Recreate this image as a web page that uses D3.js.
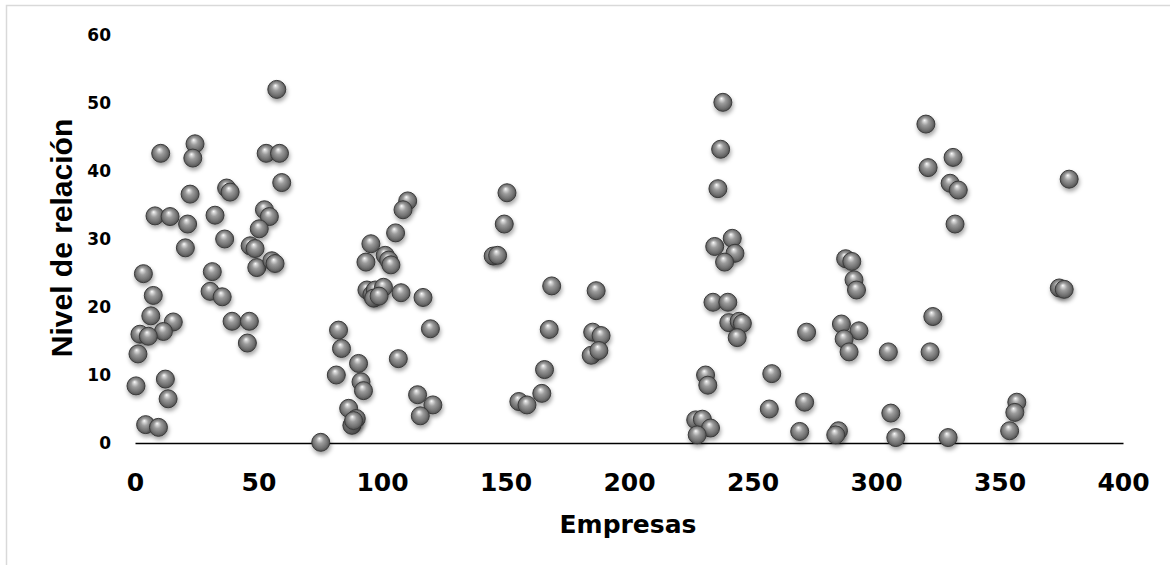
<!DOCTYPE html>
<html>
<head>
<meta charset="utf-8">
<script src="https://cdn.jsdelivr.net/npm/d3@7"></script>
<style>
  html, body { margin: 0; padding: 0; background: #ffffff; }
  svg { display: block; }
</style>
</head>
<body>
<svg id="chart" width="1170" height="565"></svg>
<script>
// Company index (x) and relationship level (y) for each firm
const empresas = [
  57.4, 24.3, 23.4, 10.4, 53.1, 58.5, 59.4, 22.3, 37.1, 38.5,
  8.1, 14.2, 21.3, 32.4, 52.4, 54.4, 50.3, 36.3, 20.4, 46.6,
  48.6, 49.3, 55.4, 56.7, 31.3, 3.4, 30.4, 35.3, 7.4, 6.4,
  15.5, 11.5, 2.0, 5.4, 39.3, 46.3, 45.5, 1.2, 0.4, 12.3,
  13.4, 4.3, 9.5, 75.2,
  110.4, 108.5, 105.5, 95.5, 93.5, 101.3, 102.7, 103.6, 93.9, 95.9,
  97.3, 100.6, 96.6, 98.8, 107.7, 116.6, 119.6, 82.4, 83.6, 81.5,
  90.5, 106.6, 91.5, 92.5, 86.5, 89.6, 87.8, 88.5, 114.4, 120.6,
  115.5,
  150.6, 149.5, 145.0, 146.8, 168.7, 186.7, 167.7, 185.3, 188.7, 184.7,
  187.8, 165.8, 164.7, 155.4, 158.7,
  238.0, 237.1, 236.0, 234.7, 241.8, 242.9, 238.7, 234.0, 240.0, 240.4,
  244.6, 245.9, 243.8, 231.0, 231.9, 227.0, 229.7, 233.0, 227.6, 257.8,
  256.8, 271.9, 271.1, 269.1,
  287.7, 290.2, 291.1, 292.1, 286.0, 293.1, 287.1, 289.1, 284.8, 283.7,
  305.0, 306.0, 308.0, 320.2, 321.1, 323.0, 321.9, 331.2, 330.0, 333.3,
  332.0, 329.2, 357.0, 356.2, 354.1, 374.2, 376.2, 378.2
];
const nivelRelacion = [
  52.0, 44.0, 41.9, 42.6, 42.6, 42.6, 38.3, 36.6, 37.5, 36.9,
  33.4, 33.3, 32.2, 33.5, 34.3, 33.3, 31.5, 30.0, 28.7, 29.0,
  28.6, 25.8, 26.8, 26.4, 25.2, 24.9, 22.3, 21.5, 21.7, 18.7,
  17.8, 16.4, 16.0, 15.7, 17.9, 17.9, 14.7, 13.1, 8.4, 9.4,
  6.5, 2.7, 2.3, 0.1,
  35.6, 34.3, 30.9, 29.3, 26.6, 27.6, 26.9, 26.2, 22.5, 21.8,
  22.5, 22.9, 21.3, 21.6, 22.1, 21.4, 16.8, 16.6, 13.9, 10.0,
  11.7, 12.4, 9.0, 7.7, 5.1, 3.6, 2.6, 3.3, 7.1, 5.6,
  4.0,
  36.8, 32.2, 27.5, 27.6, 23.1, 22.4, 16.7, 16.3, 15.8, 12.9,
  13.6, 10.8, 7.3, 6.1, 5.6,
  50.1, 43.2, 37.4, 28.9, 30.1, 27.9, 26.6, 20.7, 20.7, 17.7,
  17.9, 17.6, 15.5, 10.0, 8.5, 3.4, 3.5, 2.2, 1.2, 10.2,
  5.0, 16.3, 6.0, 1.7,
  27.1, 26.7, 24.0, 22.5, 17.5, 16.5, 15.3, 13.4, 1.8, 1.2,
  13.4, 4.4, 0.8, 46.9, 40.5, 18.6, 13.4, 42.0, 38.2, 37.2,
  32.2, 0.8, 6.0, 4.5, 1.8, 22.8, 22.6, 38.8
];

const xTicks = [0, 50, 100, 150, 200, 250, 300, 350, 400];
const yTicks = [0, 10, 20, 30, 40, 50, 60];
const xTitle = "Empresas";
const yTitle = "Nivel de relación";

const points = empresas.map((e, i) => ({ x: e, y: nivelRelacion[i] }));

const svg = d3.select("#chart");

// Outer frame of the chart area
svg.append("rect")
  .attr("x", 6.5).attr("y", 5.5)
  .attr("width", 1200).attr("height", 600)
  .attr("fill", "none")
  .attr("stroke", "#d9d9d9")
  .attr("stroke-width", 1.5);

const x = d3.scaleLinear().domain([0, 400]).range([135, 1123]);
const y = d3.scaleLinear().domain([0, 60]).range([443, 35]);

// Sphere shading and soft drop shadow
const defs = svg.append("defs");
const grad = defs.append("radialGradient")
  .attr("id", "ball")
  .attr("cx", "50%").attr("cy", "50%").attr("r", "55%")
  .attr("fx", "42%").attr("fy", "28%");
[["0%", "#ffffff"], ["10%", "#e0e0e0"], ["38%", "#9c9c9c"],
 ["72%", "#727272"], ["100%", "#464646"]]
  .forEach(([o, c]) => grad.append("stop").attr("offset", o).attr("stop-color", c));

const shadow = defs.append("filter")
  .attr("id", "shadow")
  .attr("x", "-50%").attr("y", "-50%").attr("width", "200%").attr("height", "220%");
shadow.append("feDropShadow")
  .attr("dx", 1).attr("dy", 3)
  .attr("stdDeviation", 2.2)
  .attr("flood-color", "#000")
  .attr("flood-opacity", 0.35);

// Y axis (labels only)
const yAxis = svg.append("g")
  .attr("transform", `translate(${x(0)},0)`)
  .call(d3.axisLeft(y).tickValues(yTicks).tickSize(0).tickPadding(24).tickFormat(d3.format("d")));
yAxis.select(".domain").remove();
yAxis.selectAll("text")
  .attr("font-family", "'DejaVu Sans', Verdana, sans-serif")
  .attr("font-weight", "bold")
  .attr("font-size", 17)
  .attr("fill", "#000");

// X axis: baseline at y = 0 with large labels
const xAxis = svg.append("g")
  .attr("transform", `translate(0,${y(0)})`)
  .call(d3.axisBottom(x).tickValues(xTicks).tickSize(0).tickSizeOuter(0).tickPadding(30).tickFormat(d3.format("d")));
xAxis.select(".domain")
  .attr("stroke", "#000")
  .attr("stroke-width", 1.6);
xAxis.selectAll("text")
  .attr("font-family", "'DejaVu Sans', Verdana, sans-serif")
  .attr("font-weight", "bold")
  .attr("font-size", 25)
  .attr("fill", "#000");

// Axis titles
svg.append("text")
  .attr("x", 628).attr("y", 533)
  .attr("text-anchor", "middle")
  .attr("font-family", "'DejaVu Sans', Verdana, sans-serif")
  .attr("font-weight", "bold")
  .attr("font-size", 25)
  .attr("fill", "#000")
  .text(xTitle);

svg.append("text")
  .attr("transform", "translate(72,238) rotate(-90)")
  .attr("text-anchor", "middle")
  .attr("font-family", "'Liberation Sans', Arial, sans-serif")
  .attr("font-weight", "bold")
  .attr("font-size", 30)
  .attr("fill", "#000")
  .text(yTitle);

// Markers
svg.append("g")
  .selectAll("circle")
  .data(points)
  .join("circle")
  .attr("cx", d => x(d.x))
  .attr("cy", d => y(d.y))
  .attr("r", 9)
  .attr("fill", "url(#ball)")
  .attr("stroke", "#3a3a3a")
  .attr("stroke-width", 1)
  .attr("filter", "url(#shadow)");
</script>
</body>
</html>
